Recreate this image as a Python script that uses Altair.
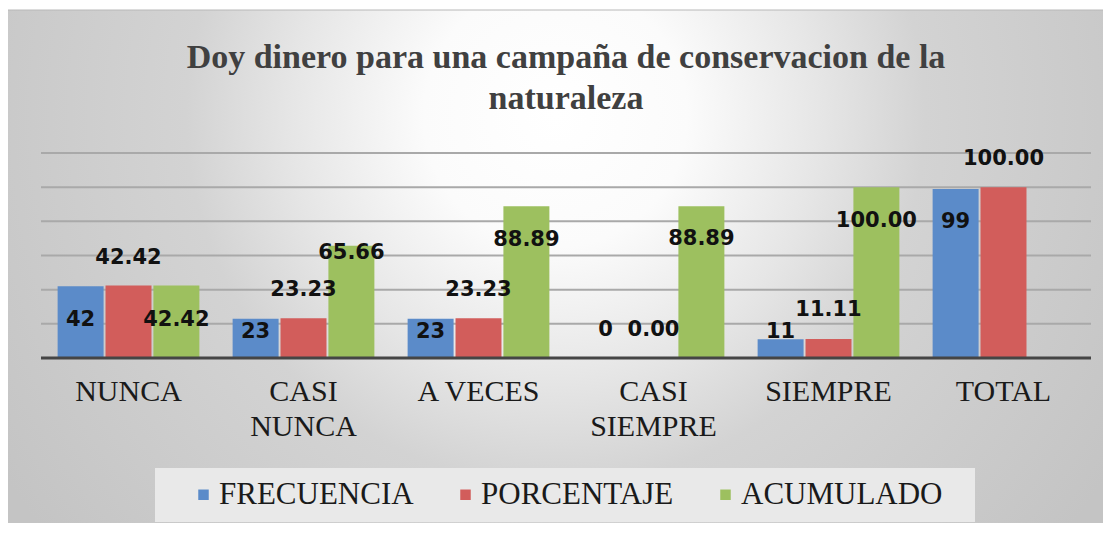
import altair as alt
import pandas as pd

categories = ["NUNCA", "CASI NUNCA", "A VECES", "CASI SIEMPRE", "SIEMPRE", "TOTAL"]
series_names = ["FRECUENCIA", "PORCENTAJE", "ACUMULADO"]
frecuencia = [42, 23, 23, 0, 11, 99]
porcentaje = [42.42, 23.23, 23.23, 0.00, 11.11, 100.00]
acumulado = [42.42, 65.66, 88.89, 88.89, 100.00, None]

# where each data label sits (in data units), as placed in the original
frec_label_at = [22.2, 15.2, 15.2, 16.4, 15.2, 79.5]
porc_label_at = [58.5, 39.8, 39.8, 16.4, 28.0, 116.5]
acum_label_at = [22.2, 61.4, 69.0, 69.6, 80.4, None]

grid_values = [20, 40, 60, 80, 100, 120]
colors = ["#5b8bc9", "#d25d5b", "#9dc05f"]

rows = []
for s, vals, labs in zip(series_names, [frecuencia, porcentaje, acumulado],
                         [frec_label_at, porc_label_at, acum_label_at]):
    for c, v, l in zip(categories, vals, labs):
        if v is None:
            continue
        txt = str(int(v)) if s == "FRECUENCIA" else f"{v:.2f}"
        rows.append({"cat": c, "series": s, "value": v, "label_at": l, "txt": txt})
df = pd.DataFrame(rows)

W, H = 1050, 205
yscale = alt.Scale(domain=[0, 120], nice=False, zero=True)
xscale = alt.Scale(paddingInner=0.19, paddingOuter=0.095)

one = pd.DataFrame({"a": [0]})

background = alt.Chart(one).mark_rect(
    fill=alt.Gradient(
        gradient="radial", x1=0.5, y1=0.36, x2=0.5, y2=0.36, r1=0, r2=0.6,
        stops=[alt.GradientStop(offset=0, color="#ffffff"),
               alt.GradientStop(offset=0.2, color="#fbfbfb"),
               alt.GradientStop(offset=0.4, color="#e6e6e6"),
               alt.GradientStop(offset=0.56, color="#d3d3d3"),
               alt.GradientStop(offset=1, color="#c4c4c4")]),
    stroke="#b8b8b8", strokeWidth=1,
).encode(x=alt.value(-35), x2=alt.value(1064), y=alt.value(-143), y2=alt.value(375))

legend_box = alt.Chart(one).mark_rect(fill="#e9e9e9").encode(
    x=alt.value(114), x2=alt.value(934), y=alt.value(315), y2=alt.value(369))

grid = alt.Chart(pd.DataFrame({"g": grid_values})).mark_rule(
    color="#a9a9a9", strokeWidth=2
).encode(y=alt.Y("g:Q", scale=yscale, axis=None), x=alt.value(0), x2=alt.value(W))

bars = alt.Chart(df).mark_bar().encode(
    x=alt.X("cat:N", sort=categories, scale=xscale, title=None,
            axis=alt.Axis(labelFont="Liberation Serif", labelFontSize=30,
                          labelColor="#1a1a1a", ticks=False, domain=False,
                          grid=False, labelPadding=18, labelLineHeight=35,
                          labelAngle=0, zindex=1,
                          labelExpr="indexof(datum.label, 'CASI ') == 0 ? split(datum.label, ' ') : datum.label")),
    xOffset=alt.XOffset("series:N", sort=series_names, scale=alt.Scale(paddingInner=0.04)),
    y=alt.Y("value:Q", scale=yscale, axis=None),
    color=alt.Color("series:N", sort=series_names,
                    scale=alt.Scale(domain=series_names, range=colors),
                    legend=alt.Legend(orient="none", legendX=147, legendY=326,
                                      direction="horizontal", title=None,
                                      symbolType="square", symbolSize=110,
                                      symbolStrokeWidth=0, labelFont="Liberation Serif",
                                      labelFontSize=31, labelColor="#1a1a1a",
                                      labelOffset=0, columnPadding=36, labelLimit=400,
                                      padding=0)),
)

baseline = alt.Chart(one).mark_rule(color="#454545", strokeWidth=3).encode(
    y=alt.value(H), x=alt.value(0), x2=alt.value(W))

labels = alt.Chart(df).mark_text(
    font="DejaVu Sans", fontWeight="bold", fontSize=21, color="#111111",
    baseline="middle", align="center"
).encode(
    x=alt.X("cat:N", sort=categories, scale=xscale),
    xOffset=alt.XOffset("series:N", sort=series_names, scale=alt.Scale(paddingInner=0.04)),
    y=alt.Y("label_at:Q", scale=yscale, axis=None),
    text="txt:N",
)

chart = alt.layer(background, legend_box, grid, bars, baseline, labels).properties(
    width=W, height=H,
    title=alt.TitleParams(
        text=["Doy dinero para una campaña de conservacion de la", "naturaleza"],
        font="Liberation Serif", fontSize=34, fontWeight="bold", color="#404040",
        lineHeight=41, offset=-106, anchor="middle"),
    autosize=alt.AutoSizeParams(type="none"),
    padding={"left": 33, "top": 145, "right": 12, "bottom": 165},
    background="white",
).configure_view(stroke=None)

chart.save("out.html", embed_options={"renderer": "svg", "actions": False})
